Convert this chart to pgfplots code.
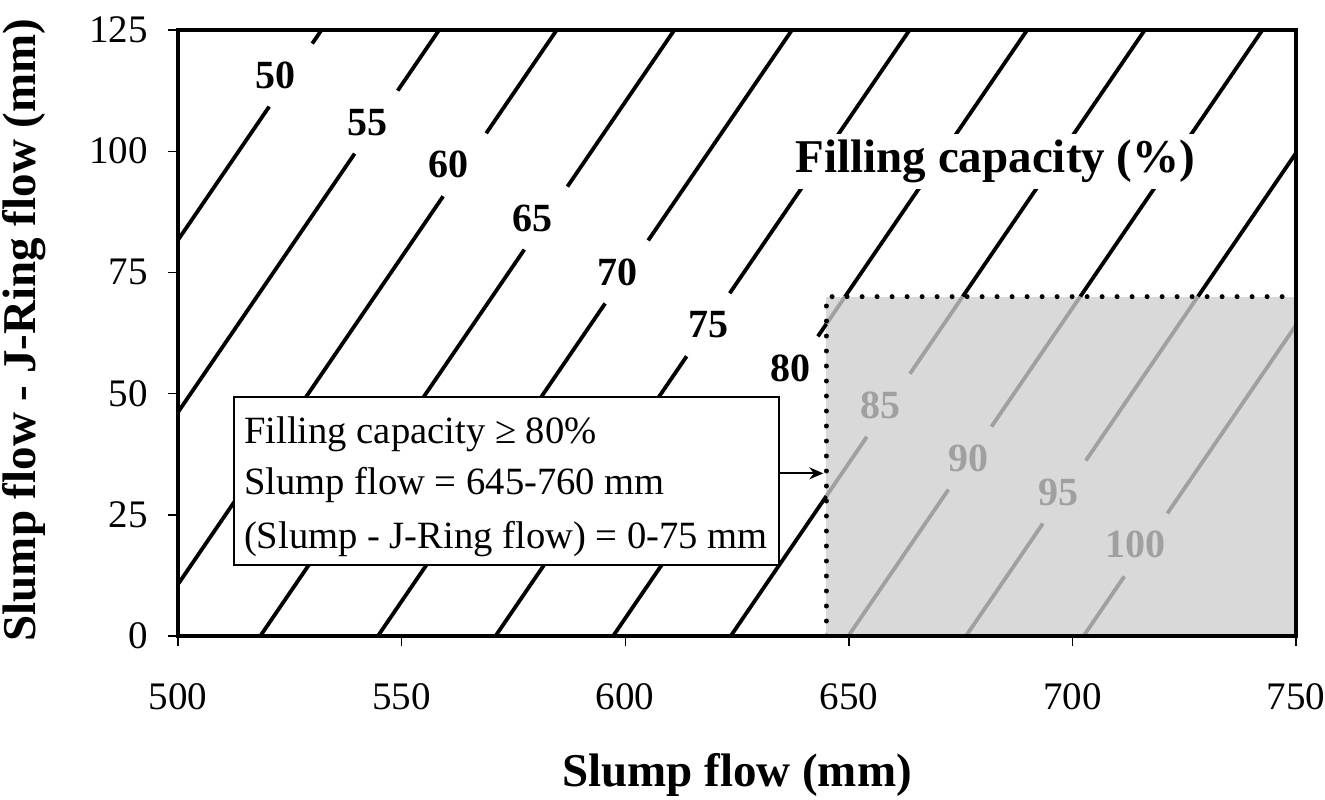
\documentclass[border=0pt]{standalone}
\usepackage{fontspec}
\setmainfont{Liberation Serif}
\usepackage{pgfplots}
\pgfplotsset{compat=1.18}
\usetikzlibrary{arrows.meta}
\definecolor{boxgray}{HTML}{D9D9D9}
\definecolor{lgray}{HTML}{A0A0A0}
\begin{document}
\begin{tikzpicture}
\path[use as bounding box] (-89pt,-81.5pt) rectangle (573.5pt,318pt);
\begin{axis}[
  at={(0pt,0pt)}, anchor=south west,
  scale only axis, width=559pt, height=303pt,
  xmin=500, xmax=750, ymin=0, ymax=125,
  xtick={500,550,600,650,700,750},
  ytick={0,25,50,75,100,125},
  xtick pos=lower, ytick pos=left,
  tick align=outside,
  major tick length=5pt,
  every tick/.style={black, line width=0.7pt},
  axis line style={black, line width=1.8pt},
  /pgf/number format/assume math mode=true,
  ticklabel style={font=\fontsize{19.5}{22}\selectfont},
  xticklabel style={yshift=-15pt},
  yticklabel style={xshift=-6.5pt},
  xlabel={Slump flow (mm)},
  ylabel={Slump flow - J-Ring flow (mm)},
  label style={font=\fontsize{23.5}{26}\selectfont\bfseries},
  xlabel style={at={(axis description cs:0.5,-0.2294)}, anchor=center},
  ylabel style={at={(axis description cs:-0.1372,0.505)}, anchor=center},
  unbounded coords=jump,
  axis on top,
  every node/.style={text=black},
]
% shaded region
\addplot[fill=boxgray, draw=none] coordinates {(645,0) (750,0) (750,70) (645,70)} -- cycle;

% black contour segments
\addplot[black, line width=1.9pt] coordinates {(500,81.68) (520.39,109.2) (nan,nan) (530.02,122.2) (532.09,125)};
\addplot[black, line width=1.9pt] coordinates {(500,46.17) (539.50,99.5) (nan,nan) (549.13,112.5) (558.39,125)};
\addplot[black, line width=1.9pt] coordinates {(500,10.67) (559.29,90.7) (nan,nan) (568.92,103.7) (584.69,125)};
\addplot[black, line width=1.9pt] coordinates {(518.4,0) (577.44,79.7) (nan,nan) (587.07,92.7) (610.99,125)};
\addplot[black, line width=1.9pt] coordinates {(544.7,0) (595.51,68.6) (nan,nan) (605.14,81.6) (637.29,125)};
\addplot[black, line width=1.9pt] coordinates {(571,0) (613.74,57.7) (nan,nan) (623.37,70.7) (663.59,125)};
\addplot[black, line width=1.9pt] coordinates {(597.3,0) (633.45,48.8) (nan,nan) (643.08,61.8) (645,64.39) (nan,nan) (649.15,70) (689.89,125)};
\addplot[black, line width=1.9pt] coordinates {(623.6,0) (645,28.89) (nan,nan) (675.45,70) (716.19,125)};
\addplot[black, line width=1.9pt] coordinates {(701.75,70) (742.49,125)};
\addplot[black, line width=1.9pt] coordinates {(728.05,70) (750,99.63)};

% grey contour segments inside the region
\addplot[lgray, line width=1.9pt] coordinates {(645,64.39) (649.15,70)};
\addplot[lgray, line width=1.9pt] coordinates {(645,28.89) (654.04,41.1) (nan,nan) (663.67,54.1) (675.45,70)};
\addplot[lgray, line width=1.9pt] coordinates {(649.9,0) (672.27,30.2) (nan,nan) (681.90,43.2) (701.75,70)};
\addplot[lgray, line width=1.9pt] coordinates {(676.2,0) (693.39,23.2) (nan,nan) (703.01,36.2) (728.05,70)};
\addplot[lgray, line width=1.9pt] coordinates {(702.5,0) (711.61,12.3) (nan,nan) (721.24,25.3) (750,64.13)};

% dotted boundary
\addplot[black, line width=2.5pt, line cap=round, dash pattern=on 0pt off 7.5pt] coordinates {(645,0) (645,70) (750,70)};

% annotation box and arrow
\addplot[fill=white, draw=black, line width=0.8pt] coordinates {(512.5,14.6) (634.4,14.6) (634.4,49.3) (512.5,49.3)} -- cycle;
\addplot[black, line width=1pt, -{Stealth[length=7pt,width=6pt]}] coordinates {(634.4,33.55) (644.3,33.55)};

\node[anchor=base west, inner sep=0pt, font=\fontsize{19.3}{22}\selectfont] at (axis cs:514.7,39.8) {Filling capacity ≥ 80\%};
\node[anchor=base west, inner sep=0pt, font=\fontsize{19.3}{22}\selectfont] at (axis cs:514.7,29.1) {Slump flow = 645-760 mm};
\node[anchor=base west, inner sep=0pt, font=\fontsize{19.3}{22}\selectfont] at (axis cs:514.7,18.15) {(Slump - J-Ring flow) = 0-75 mm};

% contour labels
\begin{scope}[every node/.style={font=\fontsize{20}{22}\selectfont\bfseries}]
\node at (axis cs:521.7,115.7) {50};
\node at (axis cs:542.3,106.0) {55};
\node at (axis cs:560.4,97.2) {60};
\node at (axis cs:579.2,86.2) {65};
\node at (axis cs:598.2,75.1) {70};
\node at (axis cs:618.7,64.2) {75};
\node at (axis cs:636.9,55.3) {80};
\node[text=lgray] at (axis cs:657.0,47.6) {85};
\node[text=lgray] at (axis cs:676.7,36.7) {90};
\node[text=lgray] at (axis cs:696.8,29.7) {95};
\node[text=lgray] at (axis cs:714.2,18.8) {100};
\end{scope}

\node[fill=white, inner sep=3pt, font=\fontsize{23.5}{26}\selectfont\bfseries] at (axis cs:682.8,97.8) {Filling capacity (\%)};
\end{axis}
\end{tikzpicture}
\end{document}
